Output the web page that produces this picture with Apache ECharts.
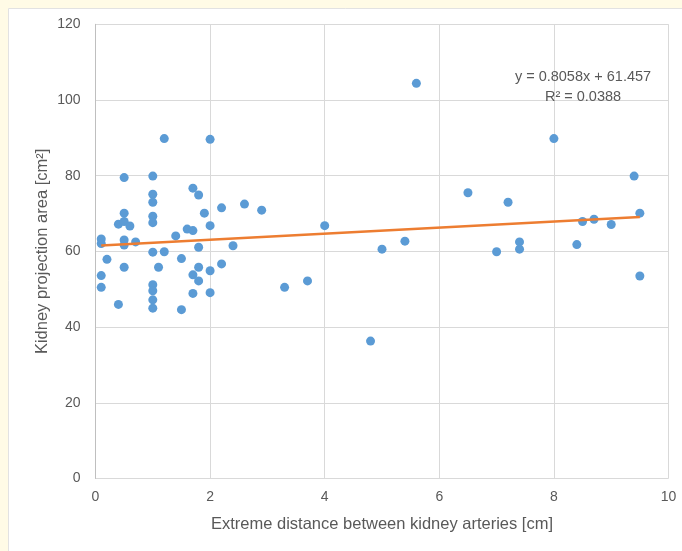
<!DOCTYPE html>
<html><head><meta charset="utf-8">
<script src="https://cdn.jsdelivr.net/npm/echarts@6/dist/echarts.min.js"></script>
<style>html,body{margin:0;padding:0;background:#fffbe6;} #c{width:682px;height:551px;}</style>
</head><body><div id="c"></div>
<script>
// Extreme distance between kidney arteries [cm]
const xValues = [0.1,0.1,0.1,0.1,0.2,0.4,0.4,0.5,0.5,0.5,0.5,0.5,0.5,0.6,0.7,
  1.0,1.0,1.0,1.0,1.0,1.0,1.0,1.0,1.0,1.0,1.1,1.2,1.2,1.4,1.5,1.5,1.6,1.7,1.7,1.7,1.7,
  1.8,1.8,1.8,1.8,1.9,2.0,2.0,2.0,2.0,2.2,2.2,2.4,2.6,2.9,3.3,3.7,4.0,4.8,5.0,5.4,5.6,
  6.5,7.0,7.2,7.4,7.4,8.0,8.4,8.5,8.7,9.0,9.4,9.5,9.5];
// Kidney projection area [cm²]
const yValues = [63.3,62.1,53.6,50.5,57.9,67.2,46.0,79.5,70.1,67.9,63.0,61.7,55.8,66.7,62.5,
  79.9,75.1,73.0,69.3,67.6,59.8,51.2,49.6,47.2,45.0,55.8,89.8,59.9,64.1,58.1,44.6,65.9,76.7,65.5,53.8,48.9,
  74.9,61.1,55.8,52.2,70.1,89.6,66.8,54.9,49.1,71.5,56.7,61.5,72.5,70.9,50.5,52.2,66.8,36.3,60.6,62.7,104.4,
  75.5,59.9,73.0,62.5,60.6,89.8,61.8,67.9,68.5,67.1,79.9,70.1,53.5];
const yTicks = [0,20,40,60,80,100,120];
const xTicks = [0,2,4,6,8,10];
// Linear trendline as reported on the chart
const trendSlope = 0.8058;
const trendIntercept = 61.457;
const trendRange = [0.1, 9.5];
const trendLabel = ['y = 0.8058x + 61.457', 'R² = 0.0388'];

const points = xValues.map((x, i) => [x, yValues[i]]);
const trendData = trendRange.map(x => [x, trendSlope * x + trendIntercept]);
const font = 'Liberation Sans, Arial, sans-serif';
const txt = '#595959';

const chart = echarts.init(document.getElementById('c'));
chart.setOption({
  backgroundColor: '#fffbe6',
  animation: false,
  graphic: [
    {type: 'rect', z: -10, shape: {x: 8.5, y: 8.5, width: 690, height: 560},
     style: {fill: '#ffffff', stroke: '#e2e2e2', lineWidth: 1}},
    {type: 'text', x: 583, y: 77, z: 10,
     style: {text: trendLabel[0], font: '14.5px ' + font, fill: txt, textAlign: 'center', textVerticalAlign: 'middle'}},
    {type: 'text', x: 583, y: 97, z: 10,
     style: {text: trendLabel[1], font: '14.5px ' + font, fill: txt, textAlign: 'center', textVerticalAlign: 'middle'}}
  ],
  grid: {left: 95.5, right: 13.5, top: 24.3, bottom: 72.5, containLabel: false},
  xAxis: {
    type: 'value', min: 0, max: 10, interval: 2,
    name: 'Extreme distance between kidney arteries [cm]',
    nameLocation: 'middle', nameGap: 37, nameMoveOverlap: false,
    nameTextStyle: {color: txt, fontSize: 16.5, fontFamily: font},
    axisLine: {show: false},
    axisTick: {show: false},
    axisLabel: {color: txt, fontSize: 14, fontFamily: font, margin: 12},
    splitLine: {show: true, lineStyle: {color: '#d9d9d9', width: 1}}
  },
  yAxis: {
    type: 'value', min: 0, max: 120, interval: 20,
    name: 'Kidney projection area [cm²]',
    nameLocation: 'middle', nameGap: 45, nameRotate: 90, nameMoveOverlap: false,
    nameTextStyle: {color: txt, fontSize: 16.5, fontFamily: font},
    axisLine: {show: true, lineStyle: {color: '#bfbfbf', width: 1}},
    axisTick: {show: false},
    axisLabel: {color: txt, fontSize: 14, fontFamily: font, margin: 15},
    splitLine: {show: true, lineStyle: {color: '#d9d9d9', width: 1}}
  },
  series: [
    {type: 'scatter', data: points, symbolSize: 9,
     itemStyle: {color: '#5b9bd5', opacity: 1}},
    {type: 'line', data: trendData, symbol: 'none', z: 5,
     lineStyle: {color: '#ed7d31', width: 2.5}}
  ]
});
</script></body></html>
